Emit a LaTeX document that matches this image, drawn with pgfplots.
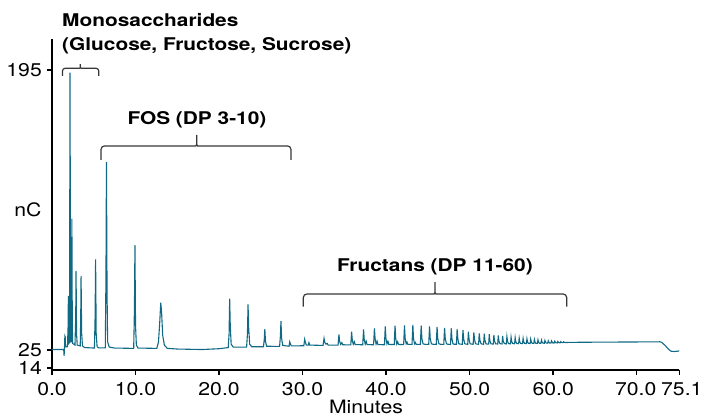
\documentclass[border=0pt]{standalone}
\usepackage{fontspec}
\setmainfont{TeX Gyre Heros}[FakeStretch=1.15]
\newfontfamily\boldf{TeX Gyre Heros}[FakeStretch=1.19]
\usepackage{pgfplots}
\pgfplotsset{compat=1.18}
\definecolor{trace}{RGB}{16,106,134}
\definecolor{brc}{RGB}{55,55,55}
\begin{document}
\begin{tikzpicture}
\useasboundingbox (-52bp,-47.2bp) rectangle (653bp,369.8bp);
\begin{axis}[
 at={(0,0)}, anchor=south west, scale only axis,
 width=627.3bp, height=330.8bp,
 xmin=0, xmax=75.1, ymin=13, ymax=213.8,
 axis lines=left, axis line style={-, line width=2bp, black},
 clip=false,
 xtick={0,10,20,30,40,50,60,70,75.1},
 xticklabels={0.0,10.0,20.0,30.0,40.0,50.0,60.0,{70.0\hspace*{2bp}},{\hspace*{5bp}75.1}},
 ytick={14,25,195}, yticklabels={14,25,195},
 tick align=outside, major tick length=5bp,
 tick style={line width=1.5bp, black},
 tick label style={font=\fontsize{18.5}{20}\selectfont, inner sep=0pt},
 xticklabel style={yshift=-7bp},
 yticklabel style={xshift=-5bp},
]
\addplot[trace, line width=1.1bp] coordinates {
(0,25.3)(1.40,25.3)(1.45,21.5)(1.50,27)(1.54,33.5)(1.58,33)(1.62,27)(1.85,27)(1.93,40)(1.96,57.8)(2.01,29)(2.09,29.5)(2.13,120)(2.16,193.4)(2.21,60)(2.25,30)(2.32,30)(2.35,70)(2.38,104.7)(2.43,40)(2.48,29)(2.75,28)(2.84,45)(2.88,73)(2.94,35)(3.02,28)(3.38,27.5)(3.44,45)(3.48,70)(3.55,35)(3.65,27.5)(3.9,26.5)
(5.08,26.2)(5.16,45)(5.22,80)(5.29,35)(5.4,27)(5.6,26.3)(6.38,26.3)(6.46,70)(6.52,139)(6.59,60)(6.66,30)(6.85,26.8)(7.5,26.2)
(9.78,26)(9.87,50)(9.93,88.7)(10.0,40)(10.1,28)(10.3,26.2)(12.55,26)(12.75,30)(12.9,42)(13.02,53.7)(13.12,48)(13.25,34)(13.45,28)(13.8,26)(15,25.6)(18,25.3)(20,25.8)
(21.1,26.5)(21.2,35)(21.27,56.2)(21.34,40)(21.45,28.5)(21.7,26.8)(23.3,26.8)(23.4,35)(23.47,52.7)(23.55,38)(23.67,28.5)(23.9,27)
(25.32,27)(25.42,32)(25.48,37.6)(25.56,30)(25.7,27.3)(27.25,27.2)(27.35,34)(27.41,42.6)(27.49,32)(27.62,27.8)(28.38,27.3)(28.46,30)(28.53,29)(28.65,27.5)
(30.15,27.6)(30.25,31.5)(30.32,30)(30.45,28)(30.68,28)(30.76,29.5)(30.85,28)(32.45,27.8)(32.57,32.1)(32.67,29.5)(32.8,28.6)(32.95,29)(33.05,28)
(34.25,28)(34.35,34.5)(34.43,30.5)(34.55,28.4)(34.7,29.5)(34.8,28.2)
(35.77,28.1)(35.87,36.1)(35.95,31)(36.07,28.5)(36.2,30)(36.3,28.3)
(37.2,28.2)(37.3,37.5)(37.38,31.5)(37.5,28.6)(37.62,30.3)(37.72,28.3)
(38.5,28.2)(38.6,38.2)(38.68,32)(38.8,28.6)(38.92,30.3)(39.02,28.3)
(39.8,28.2)(39.9,39.4)(39.98,32)(40.1,28.7)(40.22,30.3)(40.32,28.4)
(40.97,28.3)(41.07,39.8)(41.15,32)(41.27,28.7)(41.38,30)(41.48,28.4)
(42.1,28.3)(42.2,40)(42.28,32)(42.4,28.8)(42.5,29.8)(42.6,28.4)
(43.1,28.4)(43.2,40.2)(43.28,32)(43.4,28.8)(43.5,29.6)(43.6,28.4)
(44.1,28.4)(44.2,39.8)(44.28,32)(44.42,28.8)(44.6,28.5)
(45.1,28.4)(45.2,39.4)(45.28,32)(45.42,28.8)(45.6,28.5)
(46.0,28.4)(46.1,39)(46.18,32)(46.32,28.8)(46.5,28.5)
(46.9,28.4)(47.0,38.5)(47.08,32)(47.22,28.8)(47.4,28.5)
(47.71,28.4)(47.8,38.2)(47.88,32)(48.0,28.8)(48.15,28.5)
(48.42,28.5)(48.5,37.6)(48.58,32)(48.7,28.8)(48.85,28.6)
(49.12,28.5)(49.2,37)(49.28,32)(49.4,28.9)(49.55,28.6)
(49.77,28.5)(49.85,36.1)(49.93,31.5)(50.05,28.9)(50.2,28.6)
(50.42,28.5)(50.5,35.7)(50.58,31.5)(50.7,28.9)(50.85,28.6)
(51.07,28.5)(51.15,35.1)(51.23,31)(51.35,28.9)(51.5,28.6)
(51.67,28.5)(51.75,35)(51.83,31)(51.95,28.8)(52.1,28.6)
(52.28,28.6)(52.35,34.6)(52.42,30.7)(52.55,28.8)
(52.83,28.6)(52.9,34.2)(52.97,30.6)(53.1,28.8)
(53.36,28.65)(53.43,33.8)(53.5,30.5)(53.63,28.85)
(53.88,28.7)(53.95,33.5)(54.02,30.4)(54.15,28.9)
(54.39,28.7)(54.46,33.1)(54.53,30.3)(54.65,28.9)
(54.89,28.75)(54.96,32.8)(55.03,30.2)(55.15,28.95)
(55.38,28.8)(55.45,32.5)(55.52,30.1)(55.63,29.0)
(55.86,28.85)(55.93,32.2)(56.0,30.0)(56.1,29.0)
(56.33,28.9)(56.4,32.0)(56.47,30.0)(56.57,29.05)
(56.79,28.9)(56.86,31.8)(56.93,29.9)(57.03,29.05)
(57.24,28.95)(57.31,31.6)(57.38,29.9)(57.48,29.1)
(57.68,29.0)(57.75,31.4)(57.82,29.9)(57.92,29.1)
(58.11,29.0)(58.18,31.2)(58.25,29.8)(58.35,29.15)
(58.53,29.05)(58.6,31.0)(58.67,29.8)(58.77,29.2)
(58.94,29.1)(59.01,30.8)(59.08,29.8)(59.18,29.2)
(59.34,29.15)(59.41,30.6)(59.48,29.8)(59.58,29.25)
(59.73,29.2)(59.8,30.5)(59.87,29.8)(59.97,29.3)
(60.11,29.25)(60.18,30.3)(60.25,29.8)(60.35,29.35)
(60.48,29.3)(60.55,30.2)(60.62,29.75)(60.72,29.4)
(60.84,29.35)(60.91,30.1)(60.98,29.7)(61.08,29.45)
(61.19,29.45)(61.26,30.0)(61.33,29.7)(61.45,29.55)
(61.8,29.6)(63,29.7)(66,29.8)(70,29.9)(72.8,30.0)(73.0,29.6)(73.4,27.8)(73.8,25.5)(74.1,24.3)(74.5,24.1)(74.9,24.3)(75.1,24.5)
};
% braces
\draw[brc, line width=1.2bp, rounded corners=2.5bp] (axis cs:1.26,191.4) -- (axis cs:1.26,196) -- (axis cs:2.95,196) .. controls (axis cs:3.39,196) .. (axis cs:3.39,199.4) .. controls (axis cs:3.39,196) .. (axis cs:3.83,196) -- (axis cs:5.59,196) -- (axis cs:5.59,191.4);
\draw[brc, line width=1.2bp, rounded corners=3.5bp] (axis cs:5.87,140.4) -- (axis cs:5.87,148.9) -- (axis cs:16.8,148.9) .. controls (axis cs:17.32,148.9) .. (axis cs:17.32,156.8) .. controls (axis cs:17.32,148.9) .. (axis cs:17.84,148.9) -- (axis cs:28.61,148.9) -- (axis cs:28.61,140.4);
\draw[brc, line width=1.2bp, rounded corners=3.5bp] (axis cs:30.09,51.3) -- (axis cs:30.09,59.0) -- (axis cs:45.33,59.0) .. controls (axis cs:45.85,59.0) .. (axis cs:45.85,67.5) .. controls (axis cs:45.85,59.0) .. (axis cs:46.37,59.0) -- (axis cs:61.62,59.0) -- (axis cs:61.62,51.3);
\end{axis}
\node[anchor=base, inner sep=0pt, font=\fontsize{18.5}{20}\selectfont] at (314bp,-43.6bp) {Minutes};
\node[anchor=center, inner sep=0pt, font=\fontsize{18.5}{20}\selectfont] at (-24bp,159.8bp) {nC};
\node[anchor=base west, inner sep=0pt, font=\boldf\bfseries\fontsize{17.6}{20}\selectfont] at (10bp,343.1bp) {Monosaccharides};
\node[anchor=base west, inner sep=0pt, font=\boldf\bfseries\fontsize{17.6}{20}\selectfont] at (10bp,319.1bp) {(Glucose, Fructose, Sucrose)};
\node[anchor=base, inner sep=0pt, font=\boldf\bfseries\fontsize{17.6}{20}\selectfont] at (145bp,244.8bp) {FOS (DP 3-10)};
\node[anchor=base, inner sep=0pt, font=\boldf\bfseries\fontsize{17.6}{20}\selectfont] at (383bp,97.8bp) {Fructans (DP 11-60)};
\end{tikzpicture}
\end{document}
